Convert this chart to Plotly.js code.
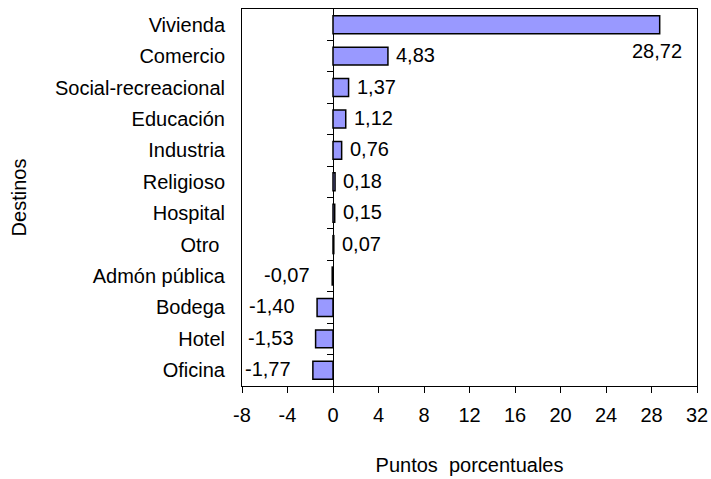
<!DOCTYPE html>
<html>
<head>
<meta charset="utf-8">
<script src="https://cdn.plot.ly/plotly-3.0.1.min.js"></script>
<style>html,body{margin:0;padding:0;background:#fff;}#chart{width:711px;height:479px;}</style>
</head>
<body>
<div id="chart"></div>
<script>
const categories = ["Vivienda", "Comercio", "Social-recreacional", "Educación", "Industria", "Religioso", "Hospital", "Otro\u00a0", "Admón pública", "Bodega", "Hotel", "Oficina"];
const values = [28.72, 4.83, 1.37, 1.12, 0.76, 0.18, 0.15, 0.07, -0.07, -1.40, -1.53, -1.77];
const xTicks = [-8, -4, 0, 4, 8, 12, 16, 20, 24, 28, 32];
const xRange = [-8, 32];

const FONT = "Arial, 'Liberation Sans', sans-serif";
const fmt = v => v.toFixed(2).replace('.', ',');

const idx = categories.map((c, i) => i);
const nCat = categories.length;

const annotations = values.map((v, i) => {
  const isMax = v === Math.max(...values);
  if (isMax) {
    return {x: v, y: categories[i], xref: 'x', yref: 'y', text: fmt(v), showarrow: false,
            xanchor: 'right', yanchor: 'middle', xshift: 24, yshift: -26,
            font: {family: FONT, size: 20, color: '#000'}};
  }
  return {x: v, y: categories[i], xref: 'x', yref: 'y', text: fmt(v), showarrow: false,
          xanchor: v >= 0 ? 'left' : 'right', yanchor: 'middle',
          xshift: v >= 0 ? 6 : -20, yshift: 1,
          font: {family: FONT, size: 20, color: '#000'}};
});

const traces = [
  {type: 'bar', orientation: 'h', x: values, y: categories,
   marker: {color: '#9999FF', line: {color: '#000', width: 1.5}},
   width: 0.57, hoverinfo: 'skip', showlegend: false},
  {type: 'scatter', x: [null], y: [null], yaxis: 'y2', mode: 'none', hoverinfo: 'skip', showlegend: false}
];

const layout = {
  width: 711, height: 479,
  margin: {l: 242, r: 14, t: 9, b: 93, pad: 0},
  paper_bgcolor: '#fff', plot_bgcolor: '#fff',
  font: {family: FONT, size: 20, color: '#000'},
  showlegend: false,
  xaxis: {
    range: xRange, tickvals: xTicks, ticktext: xTicks.map(String),
    ticks: 'outside', ticklen: 6, tickwidth: 1, tickcolor: '#000',
    ticklabelstandoff: 5,
    showline: true, mirror: true, linecolor: '#000', linewidth: 1,
    showgrid: false, zeroline: true, zerolinecolor: '#000', zerolinewidth: 1,
    tickfont: {family: FONT, size: 20, color: '#000'},
    title: {text: 'Puntos\u00a0\u00a0porcentuales', font: {family: FONT, size: 20, color: '#000'}, standoff: 32},
    automargin: false, fixedrange: true
  },
  yaxis: {
    type: 'category', categoryorder: 'array', categoryarray: categories,
    range: [nCat - 0.5, -0.5],
    ticks: '', showline: true, mirror: true, linecolor: '#000', linewidth: 1,
    showgrid: false, zeroline: false,
    ticklabelstandoff: 12,
    tickfont: {family: FONT, size: 20, color: '#000'},
    title: {text: 'Destinos', font: {family: FONT, size: 20, color: '#000'}, standoff: 22},
    automargin: false, fixedrange: true
  },
  yaxis2: {
    overlaying: 'y', anchor: 'free', side: 'left',
    position: (0 - xRange[0]) / (xRange[1] - xRange[0]),
    range: [nCat - 0.5, -0.5],
    tickvals: idx.slice(1).map(i => i - 0.5),
    ticks: 'outside', ticklen: 6, tickwidth: 1, tickcolor: '#000',
    showticklabels: false, showline: false, showgrid: false, zeroline: false,
    fixedrange: true
  },
  annotations: annotations,
  bargap: 0.43
};

Plotly.newPlot('chart', traces, layout, {staticPlot: true, displayModeBar: false});
</script>
</body>
</html>
